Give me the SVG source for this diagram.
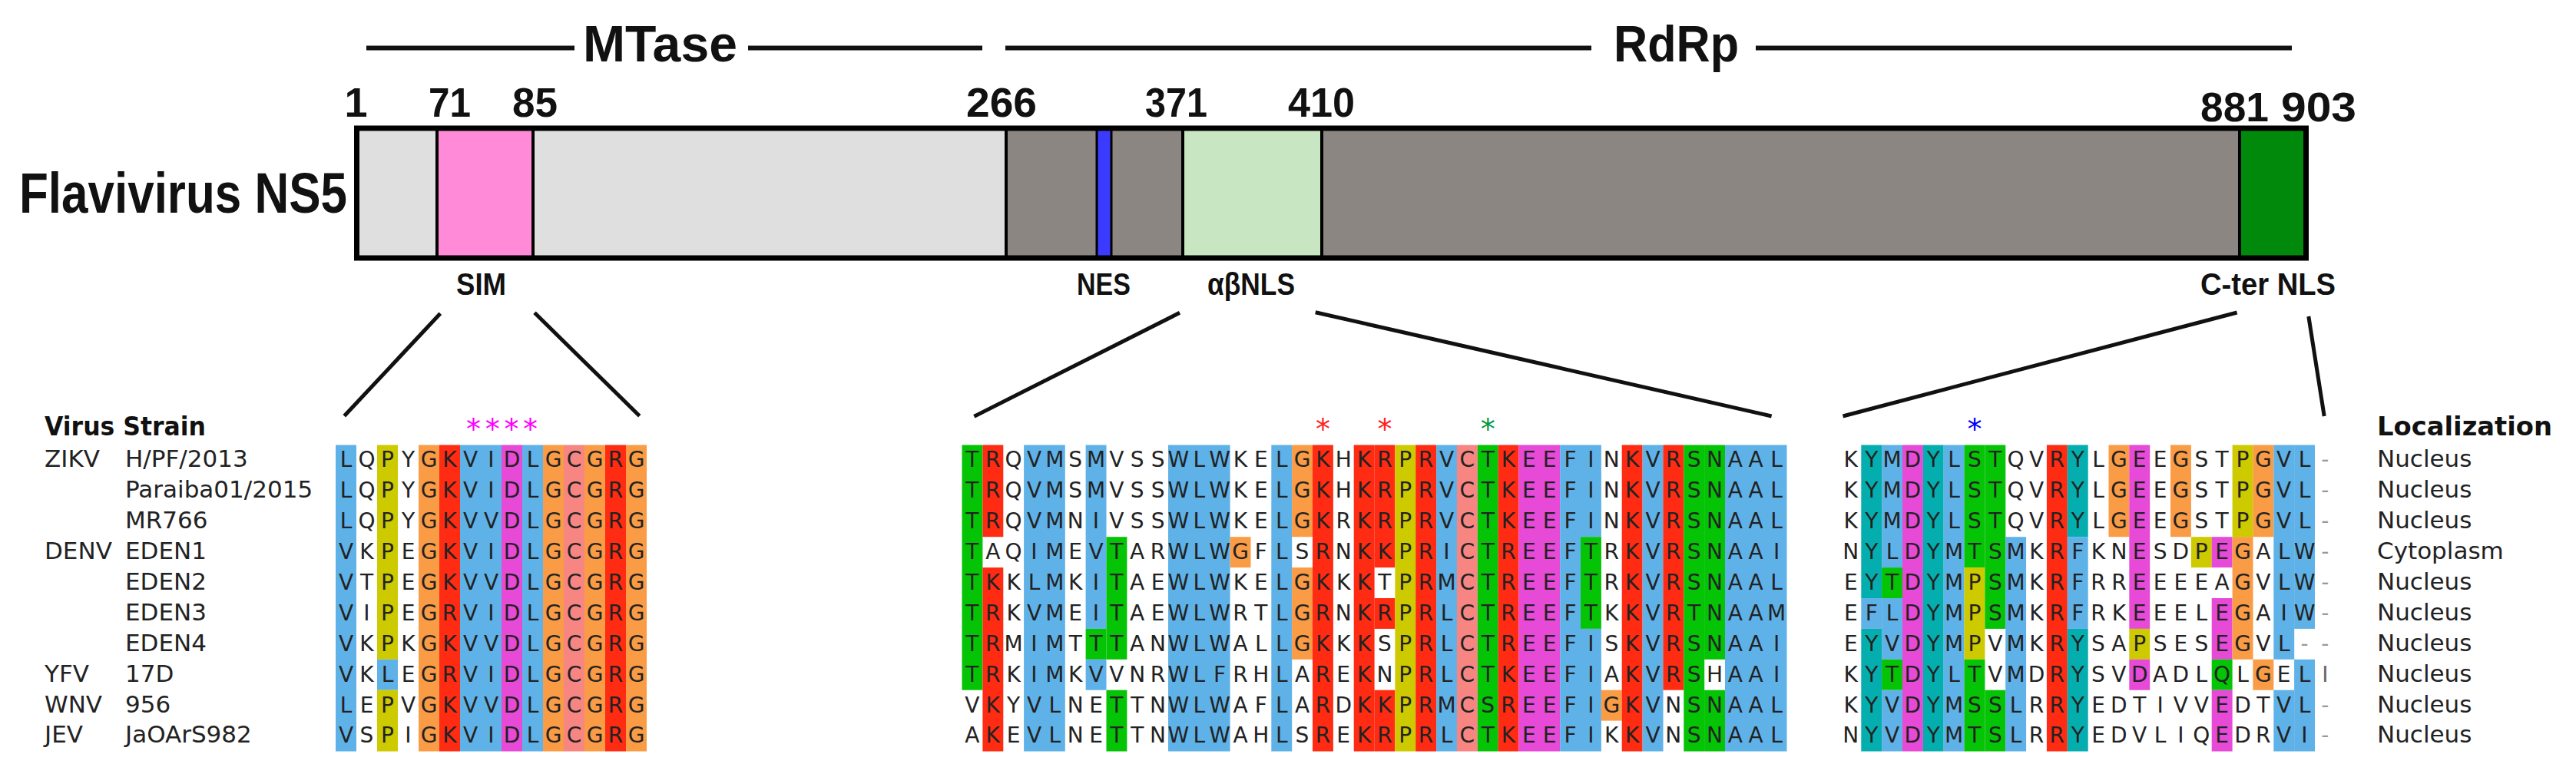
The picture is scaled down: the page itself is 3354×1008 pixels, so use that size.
<svg xmlns="http://www.w3.org/2000/svg" width="3354" height="1008" viewBox="0 0 3354 1008">
<style>
.bl{fill:#5FB2E8}.rd{fill:#FF2B12}.mg{fill:#E64AD6}.gr{fill:#05C305}.or{fill:#FA9B45}.sa{fill:#F78582}.ye{fill:#CDCA00}.te{fill:#05AEAE}
.aa{font-family:"DejaVu Sans",sans-serif;font-size:28px;fill:#222;text-anchor:middle}
.nm{font-family:"DejaVu Sans",sans-serif;font-size:31px;fill:#222}
.hd{font-family:"DejaVu Sans",sans-serif;font-size:34px;font-weight:bold;fill:#111}
.big{font-family:"Liberation Sans",Arial,sans-serif;font-weight:bold;fill:#111}
.num{font-family:"Liberation Sans",Arial,sans-serif;font-weight:bold;fill:#111;font-size:54px;text-anchor:middle}
.lab{font-family:"Liberation Sans",Arial,sans-serif;font-weight:bold;fill:#111;font-size:40px;text-anchor:middle}
.conn{stroke:#111;stroke-width:5;fill:none}
.tl{stroke:#111;stroke-width:6;fill:none}
.dash{fill:#999}
.star{font-family:"DejaVu Sans",sans-serif;font-size:38px;text-anchor:middle}
.div{stroke:#000;stroke-width:4}
</style>
<rect width="3354" height="1008" fill="#fff"/>

<g id="domain-titles">
<line class="tl" x1="477" y1="62.5" x2="748" y2="62.5"/>
<line class="tl" x1="974" y1="62.5" x2="1279" y2="62.5"/>
<text class="big" x="859.5" y="80" font-size="66" text-anchor="middle" textLength="201" lengthAdjust="spacingAndGlyphs">MTase</text>
<line class="tl" x1="1309" y1="62.5" x2="2072" y2="62.5"/>
<line class="tl" x1="2286" y1="62.5" x2="2984" y2="62.5"/>
<text class="big" x="2182.5" y="80" font-size="66" text-anchor="middle" textLength="163" lengthAdjust="spacingAndGlyphs">RdRp</text>
</g>

<g id="positions">
<text class="num" x="463.5" y="152">1</text>
<text class="num" x="585.5" y="152" textLength="55" lengthAdjust="spacingAndGlyphs">71</text>
<text class="num" x="696.5" y="152" textLength="59" lengthAdjust="spacingAndGlyphs">85</text>
<text class="num" x="1304" y="152" textLength="92" lengthAdjust="spacingAndGlyphs">266</text>
<text class="num" x="1531.5" y="152" textLength="81" lengthAdjust="spacingAndGlyphs">371</text>
<text class="num" x="1720.5" y="152" textLength="87" lengthAdjust="spacingAndGlyphs">410</text>
<text class="num" x="2909.5" y="158" textLength="89" lengthAdjust="spacingAndGlyphs">881</text>
<text class="num" x="3019" y="158" textLength="98" lengthAdjust="spacingAndGlyphs">903</text>
</g>

<g id="ns5-title">
<text class="big" x="25" y="277" font-size="75" textLength="427" lengthAdjust="spacingAndGlyphs">Flavivirus NS5</text>
</g>

<g id="ns5-bar">
<rect x="464.5" y="167" width="104.5" height="169" fill="#DFDFDF"/>
<rect x="569" y="167" width="125" height="169" fill="#FF8AD8"/>
<rect x="694" y="167" width="616" height="169" fill="#DFDFDF"/>
<rect x="1310" y="167" width="230" height="169" fill="#8B8682"/>
<rect x="1540" y="167" width="181" height="169" fill="#C8E6C1"/>
<rect x="1721" y="167" width="1195" height="169" fill="#8B8682"/>
<rect x="2916" y="167" width="86.5" height="169" fill="#00890A"/>
<rect x="1428" y="167" width="19" height="169" fill="#3B3BFF" stroke="#000" stroke-width="3"/>
<line class="div" x1="569" y1="167" x2="569" y2="336"/>
<line class="div" x1="694" y1="167" x2="694" y2="336"/>
<line class="div" x1="1310" y1="167" x2="1310" y2="336"/>
<line class="div" x1="1540" y1="167" x2="1540" y2="336"/>
<line class="div" x1="1721" y1="167" x2="1721" y2="336"/>
<line class="div" x1="2916" y1="167" x2="2916" y2="336"/>
<rect x="464.5" y="167" width="2538" height="169" fill="none" stroke="#000" stroke-width="7"/>
</g>

<g id="region-labels">
<text class="lab" x="626.5" y="384" textLength="65" lengthAdjust="spacingAndGlyphs">SIM</text>
<text class="lab" x="1437" y="384" textLength="70" lengthAdjust="spacingAndGlyphs">NES</text>
<text class="lab" x="1629" y="384" textLength="114" lengthAdjust="spacingAndGlyphs">αβNLS</text>
<text class="lab" x="2953" y="384" textLength="176" lengthAdjust="spacingAndGlyphs">C-ter NLS</text>
</g>

<g id="connectors">
<line class="conn" x1="573.3" y1="408.3" x2="448.3" y2="541.7"/>
<line class="conn" x1="696" y1="407.3" x2="832.7" y2="541.7"/>
<line class="conn" x1="1536" y1="407.3" x2="1268.3" y2="542.3"/>
<line class="conn" x1="1712.7" y1="406.7" x2="2306.6" y2="542"/>
<line class="conn" x1="2912.6" y1="407" x2="2399.5" y2="542"/>
<line class="conn" x1="3005.8" y1="412" x2="3026.2" y2="542"/>
</g>

<g id="strain-table">
<text class="hd" x="58" y="567" textLength="210" lengthAdjust="spacingAndGlyphs">Virus Strain</text>
<text class="nm" x="58" y="608.3">ZIKV</text>
<text class="nm" x="163" y="608.3">H/PF/2013</text>
<text class="nm" x="163" y="648.2">Paraiba01/2015</text>
<text class="nm" x="163" y="688.1">MR766</text>
<text class="nm" x="58" y="728">DENV</text>
<text class="nm" x="163" y="728">EDEN1</text>
<text class="nm" x="163" y="767.9">EDEN2</text>
<text class="nm" x="163" y="807.8">EDEN3</text>
<text class="nm" x="163" y="847.7">EDEN4</text>
<text class="nm" x="58" y="887.6">YFV</text>
<text class="nm" x="163" y="887.6">17D</text>
<text class="nm" x="58" y="927.5">WNV</text>
<text class="nm" x="163" y="927.5">956</text>
<text class="nm" x="58" y="967.4">JEV</text>
<text class="nm" x="163" y="967.4">JaOArS982</text>
</g>

<g id="alignment-sim">
<rect class="bl" x="437" y="579.5" width="27" height="399"/>
<rect class="ye" x="491" y="579.5" width="27" height="279.3"/>
<rect class="bl" x="491" y="858.8" width="27" height="39.9"/>
<rect class="ye" x="491" y="898.7" width="27" height="79.8"/>
<rect class="or" x="545" y="579.5" width="27" height="399"/>
<rect class="rd" x="572" y="579.5" width="27" height="399"/>
<rect class="bl" x="599" y="579.5" width="54" height="399"/>
<rect class="mg" x="653" y="579.5" width="27" height="399"/>
<rect class="bl" x="680" y="579.5" width="27" height="399"/>
<rect class="or" x="707" y="579.5" width="27" height="399"/>
<rect class="sa" x="734" y="579.5" width="27" height="399"/>
<rect class="or" x="761" y="579.5" width="27" height="399"/>
<rect class="rd" x="788" y="579.5" width="27" height="399"/>
<rect class="or" x="815" y="579.5" width="27" height="399"/>
<text class="star" x="616.6 641.3 666 690.6" y="572" fill="#FF00FF">****</text>
<text class="aa" x="450.5 477.5 504.5 531.5 558.5 585.5 612.5 639.5 666.5 693.5 720.5 747.5 774.5 801.5 828.5" y="608.3">LQPYGKVIDLGCGRG</text>
<text class="aa" x="450.5 477.5 504.5 531.5 558.5 585.5 612.5 639.5 666.5 693.5 720.5 747.5 774.5 801.5 828.5" y="648.2">LQPYGKVIDLGCGRG</text>
<text class="aa" x="450.5 477.5 504.5 531.5 558.5 585.5 612.5 639.5 666.5 693.5 720.5 747.5 774.5 801.5 828.5" y="688.1">LQPYGKVVDLGCGRG</text>
<text class="aa" x="450.5 477.5 504.5 531.5 558.5 585.5 612.5 639.5 666.5 693.5 720.5 747.5 774.5 801.5 828.5" y="728">VKPEGKVIDLGCGRG</text>
<text class="aa" x="450.5 477.5 504.5 531.5 558.5 585.5 612.5 639.5 666.5 693.5 720.5 747.5 774.5 801.5 828.5" y="767.9">VTPEGKVVDLGCGRG</text>
<text class="aa" x="450.5 477.5 504.5 531.5 558.5 585.5 612.5 639.5 666.5 693.5 720.5 747.5 774.5 801.5 828.5" y="807.8">VIPEGRVIDLGCGRG</text>
<text class="aa" x="450.5 477.5 504.5 531.5 558.5 585.5 612.5 639.5 666.5 693.5 720.5 747.5 774.5 801.5 828.5" y="847.7">VKPKGKVVDLGCGRG</text>
<text class="aa" x="450.5 477.5 504.5 531.5 558.5 585.5 612.5 639.5 666.5 693.5 720.5 747.5 774.5 801.5 828.5" y="887.6">VKLEGRVIDLGCGRG</text>
<text class="aa" x="450.5 477.5 504.5 531.5 558.5 585.5 612.5 639.5 666.5 693.5 720.5 747.5 774.5 801.5 828.5" y="927.5">LEPVGKVVDLGCGRG</text>
<text class="aa" x="450.5 477.5 504.5 531.5 558.5 585.5 612.5 639.5 666.5 693.5 720.5 747.5 774.5 801.5 828.5" y="967.4">VSPIGKVIDLGCGRG</text>
</g>

<g id="alignment-abnls">
<rect class="gr" x="1252.5" y="579.5" width="26.9" height="319.2"/>
<rect class="rd" x="1279.4" y="579.5" width="26.9" height="119.7"/>
<rect class="rd" x="1279.4" y="739.1" width="26.9" height="239.4"/>
<rect class="bl" x="1333.1" y="579.5" width="53.7" height="399"/>
<rect class="bl" x="1413.6" y="579.5" width="26.9" height="239.4"/>
<rect class="gr" x="1413.6" y="818.9" width="26.9" height="39.9"/>
<rect class="bl" x="1413.6" y="858.8" width="26.9" height="39.9"/>
<rect class="gr" x="1440.5" y="699.2" width="26.9" height="159.6"/>
<rect class="gr" x="1440.5" y="898.7" width="26.9" height="79.8"/>
<rect class="bl" x="1521" y="579.5" width="80.6" height="399"/>
<rect class="or" x="1601.6" y="699.2" width="26.9" height="39.9"/>
<rect class="bl" x="1655.3" y="579.5" width="26.9" height="399"/>
<rect class="or" x="1682.1" y="579.5" width="26.9" height="119.7"/>
<rect class="or" x="1682.1" y="739.1" width="26.9" height="119.7"/>
<rect class="rd" x="1709" y="579.5" width="26.9" height="399"/>
<rect class="rd" x="1762.7" y="579.5" width="26.9" height="399"/>
<rect class="rd" x="1789.5" y="579.5" width="26.9" height="159.6"/>
<rect class="rd" x="1789.5" y="779" width="26.9" height="39.9"/>
<rect class="rd" x="1789.5" y="898.7" width="26.9" height="79.8"/>
<rect class="ye" x="1816.4" y="579.5" width="26.9" height="399"/>
<rect class="rd" x="1843.2" y="579.5" width="26.9" height="399"/>
<rect class="bl" x="1870.1" y="579.5" width="26.9" height="399"/>
<rect class="sa" x="1896.9" y="579.5" width="26.9" height="399"/>
<rect class="gr" x="1923.8" y="579.5" width="26.9" height="399"/>
<rect class="rd" x="1950.6" y="579.5" width="26.9" height="399"/>
<rect class="mg" x="1977.5" y="579.5" width="53.7" height="399"/>
<rect class="bl" x="2031.2" y="579.5" width="26.9" height="399"/>
<rect class="bl" x="2058" y="579.5" width="26.9" height="119.7"/>
<rect class="gr" x="2058" y="699.2" width="26.9" height="119.7"/>
<rect class="bl" x="2058" y="818.9" width="26.9" height="159.6"/>
<rect class="or" x="2084.9" y="898.7" width="26.9" height="39.9"/>
<rect class="rd" x="2111.7" y="579.5" width="26.9" height="399"/>
<rect class="bl" x="2138.6" y="579.5" width="26.9" height="399"/>
<rect class="rd" x="2165.4" y="579.5" width="26.9" height="319.2"/>
<rect class="gr" x="2192.3" y="579.5" width="26.9" height="399"/>
<rect class="gr" x="2219.1" y="579.5" width="26.9" height="279.3"/>
<rect class="gr" x="2219.1" y="898.7" width="26.9" height="79.8"/>
<rect class="bl" x="2246" y="579.5" width="80.5" height="399"/>
<text class="star" x="1722.4" y="572" fill="#FF2020">*</text>
<text class="star" x="1802.9" y="572" fill="#FF2020">*</text>
<text class="star" x="1937.2" y="572" fill="#009944">*</text>
<text class="aa" x="1265.9 1292.8 1319.6 1346.5 1373.3 1400.2 1427 1453.9 1480.7 1507.6 1534.4 1561.3 1588.1 1615 1641.8 1668.7 1695.5 1722.4 1749.2 1776.1 1802.9 1829.8 1856.6 1883.5 1910.3 1937.2 1964 1990.9 2017.7 2044.6 2071.4 2098.3 2125.1 2152 2178.8 2205.7 2232.5 2259.4 2286.2 2313.1" y="608.3">TRQVMSMVSSWLWKELGKHKRPRVCTKEEFINKVRSNAAL</text>
<text class="aa" x="1265.9 1292.8 1319.6 1346.5 1373.3 1400.2 1427 1453.9 1480.7 1507.6 1534.4 1561.3 1588.1 1615 1641.8 1668.7 1695.5 1722.4 1749.2 1776.1 1802.9 1829.8 1856.6 1883.5 1910.3 1937.2 1964 1990.9 2017.7 2044.6 2071.4 2098.3 2125.1 2152 2178.8 2205.7 2232.5 2259.4 2286.2 2313.1" y="648.2">TRQVMSMVSSWLWKELGKHKRPRVCTKEEFINKVRSNAAL</text>
<text class="aa" x="1265.9 1292.8 1319.6 1346.5 1373.3 1400.2 1427 1453.9 1480.7 1507.6 1534.4 1561.3 1588.1 1615 1641.8 1668.7 1695.5 1722.4 1749.2 1776.1 1802.9 1829.8 1856.6 1883.5 1910.3 1937.2 1964 1990.9 2017.7 2044.6 2071.4 2098.3 2125.1 2152 2178.8 2205.7 2232.5 2259.4 2286.2 2313.1" y="688.1">TRQVMNIVSSWLWKELGKRKRPRVCTKEEFINKVRSNAAL</text>
<text class="aa" x="1265.9 1292.8 1319.6 1346.5 1373.3 1400.2 1427 1453.9 1480.7 1507.6 1534.4 1561.3 1588.1 1615 1641.8 1668.7 1695.5 1722.4 1749.2 1776.1 1802.9 1829.8 1856.6 1883.5 1910.3 1937.2 1964 1990.9 2017.7 2044.6 2071.4 2098.3 2125.1 2152 2178.8 2205.7 2232.5 2259.4 2286.2 2313.1" y="728">TAQIMEVTARWLWGFLSRNKKPRICTREEFTRKVRSNAAI</text>
<text class="aa" x="1265.9 1292.8 1319.6 1346.5 1373.3 1400.2 1427 1453.9 1480.7 1507.6 1534.4 1561.3 1588.1 1615 1641.8 1668.7 1695.5 1722.4 1749.2 1776.1 1802.9 1829.8 1856.6 1883.5 1910.3 1937.2 1964 1990.9 2017.7 2044.6 2071.4 2098.3 2125.1 2152 2178.8 2205.7 2232.5 2259.4 2286.2 2313.1" y="767.9">TKKLMKITAEWLWKELGKKKTPRMCTREEFTRKVRSNAAL</text>
<text class="aa" x="1265.9 1292.8 1319.6 1346.5 1373.3 1400.2 1427 1453.9 1480.7 1507.6 1534.4 1561.3 1588.1 1615 1641.8 1668.7 1695.5 1722.4 1749.2 1776.1 1802.9 1829.8 1856.6 1883.5 1910.3 1937.2 1964 1990.9 2017.7 2044.6 2071.4 2098.3 2125.1 2152 2178.8 2205.7 2232.5 2259.4 2286.2 2313.1" y="807.8">TRKVMEITAEWLWRTLGRNKRPRLCTREEFTKKVRTNAAM</text>
<text class="aa" x="1265.9 1292.8 1319.6 1346.5 1373.3 1400.2 1427 1453.9 1480.7 1507.6 1534.4 1561.3 1588.1 1615 1641.8 1668.7 1695.5 1722.4 1749.2 1776.1 1802.9 1829.8 1856.6 1883.5 1910.3 1937.2 1964 1990.9 2017.7 2044.6 2071.4 2098.3 2125.1 2152 2178.8 2205.7 2232.5 2259.4 2286.2 2313.1" y="847.7">TRMIMTTTANWLWALLGKKKSPRLCTREEFISKVRSNAAI</text>
<text class="aa" x="1265.9 1292.8 1319.6 1346.5 1373.3 1400.2 1427 1453.9 1480.7 1507.6 1534.4 1561.3 1588.1 1615 1641.8 1668.7 1695.5 1722.4 1749.2 1776.1 1802.9 1829.8 1856.6 1883.5 1910.3 1937.2 1964 1990.9 2017.7 2044.6 2071.4 2098.3 2125.1 2152 2178.8 2205.7 2232.5 2259.4 2286.2 2313.1" y="887.6">TRKIMKVVNRWLFRHLAREKNPRLCTKEEFIAKVRSHAAI</text>
<text class="aa" x="1265.9 1292.8 1319.6 1346.5 1373.3 1400.2 1427 1453.9 1480.7 1507.6 1534.4 1561.3 1588.1 1615 1641.8 1668.7 1695.5 1722.4 1749.2 1776.1 1802.9 1829.8 1856.6 1883.5 1910.3 1937.2 1964 1990.9 2017.7 2044.6 2071.4 2098.3 2125.1 2152 2178.8 2205.7 2232.5 2259.4 2286.2 2313.1" y="927.5">VKYVLNETTNWLWAFLARDKKPRMCSREEFIGKVNSNAAL</text>
<text class="aa" x="1265.9 1292.8 1319.6 1346.5 1373.3 1400.2 1427 1453.9 1480.7 1507.6 1534.4 1561.3 1588.1 1615 1641.8 1668.7 1695.5 1722.4 1749.2 1776.1 1802.9 1829.8 1856.6 1883.5 1910.3 1937.2 1964 1990.9 2017.7 2044.6 2071.4 2098.3 2125.1 2152 2178.8 2205.7 2232.5 2259.4 2286.2 2313.1" y="967.4">AKEVLNETTNWLWAHLSREKRPRLCTKEEFIKKVNSNAAL</text>
</g>

<g id="alignment-cter">
<rect class="te" x="2423.3" y="579.5" width="26.9" height="199.5"/>
<rect class="bl" x="2423.3" y="779" width="26.9" height="39.9"/>
<rect class="te" x="2423.3" y="818.9" width="26.9" height="159.6"/>
<rect class="bl" x="2450.1" y="579.5" width="26.9" height="159.6"/>
<rect class="gr" x="2450.1" y="739.1" width="26.9" height="39.9"/>
<rect class="bl" x="2450.1" y="779" width="26.9" height="79.8"/>
<rect class="gr" x="2450.1" y="858.8" width="26.9" height="39.9"/>
<rect class="bl" x="2450.1" y="898.7" width="26.9" height="79.8"/>
<rect class="mg" x="2477" y="579.5" width="26.9" height="399"/>
<rect class="te" x="2503.8" y="579.5" width="26.9" height="399"/>
<rect class="bl" x="2530.7" y="579.5" width="26.9" height="399"/>
<rect class="gr" x="2557.5" y="579.5" width="26.9" height="159.6"/>
<rect class="ye" x="2557.5" y="739.1" width="26.9" height="119.7"/>
<rect class="gr" x="2557.5" y="858.8" width="26.9" height="119.7"/>
<rect class="gr" x="2584.4" y="579.5" width="26.9" height="239.4"/>
<rect class="gr" x="2584.4" y="898.7" width="26.9" height="79.8"/>
<rect class="bl" x="2611.2" y="699.2" width="26.9" height="279.3"/>
<rect class="rd" x="2664.9" y="579.5" width="26.9" height="399"/>
<rect class="te" x="2691.8" y="579.5" width="26.9" height="119.7"/>
<rect class="bl" x="2691.8" y="699.2" width="26.9" height="119.7"/>
<rect class="te" x="2691.8" y="818.9" width="26.9" height="159.6"/>
<rect class="or" x="2745.5" y="579.5" width="26.9" height="119.7"/>
<rect class="mg" x="2772.3" y="579.5" width="26.9" height="239.4"/>
<rect class="ye" x="2772.3" y="818.9" width="26.9" height="39.9"/>
<rect class="mg" x="2772.3" y="858.8" width="26.9" height="39.9"/>
<rect class="or" x="2826" y="579.5" width="26.9" height="119.7"/>
<rect class="ye" x="2852.9" y="699.2" width="26.9" height="39.9"/>
<rect class="mg" x="2879.7" y="699.2" width="26.9" height="39.9"/>
<rect class="mg" x="2879.7" y="779" width="26.9" height="79.8"/>
<rect class="gr" x="2879.7" y="858.8" width="26.9" height="39.9"/>
<rect class="mg" x="2879.7" y="898.7" width="26.9" height="79.8"/>
<rect class="ye" x="2906.6" y="579.5" width="26.9" height="119.7"/>
<rect class="or" x="2906.6" y="699.2" width="26.9" height="159.6"/>
<rect class="or" x="2933.4" y="579.5" width="26.9" height="119.7"/>
<rect class="or" x="2933.4" y="858.8" width="26.9" height="39.9"/>
<rect class="bl" x="2960.3" y="579.5" width="26.9" height="279.3"/>
<rect class="bl" x="2960.3" y="898.7" width="26.9" height="79.8"/>
<rect class="bl" x="2987.1" y="579.5" width="26.9" height="239.4"/>
<rect class="bl" x="2987.1" y="858.8" width="26.9" height="119.7"/>
<text class="star" x="2570.9" y="572" fill="#0000FF">*</text>
<text class="aa" x="2409.8 2436.7 2463.5 2490.4 2517.2 2544.1 2570.9 2597.8 2624.6 2651.5 2678.3 2705.2 2732 2758.9 2785.7 2812.6 2839.4 2866.3 2893.1 2920 2946.8 2973.7 3000.5" y="608.3">KYMDYLSTQVRYLGEEGSTPGVL<tspan class="dash" x="3027.4">-</tspan></text>
<text class="aa" x="2409.8 2436.7 2463.5 2490.4 2517.2 2544.1 2570.9 2597.8 2624.6 2651.5 2678.3 2705.2 2732 2758.9 2785.7 2812.6 2839.4 2866.3 2893.1 2920 2946.8 2973.7 3000.5" y="648.2">KYMDYLSTQVRYLGEEGSTPGVL<tspan class="dash" x="3027.4">-</tspan></text>
<text class="aa" x="2409.8 2436.7 2463.5 2490.4 2517.2 2544.1 2570.9 2597.8 2624.6 2651.5 2678.3 2705.2 2732 2758.9 2785.7 2812.6 2839.4 2866.3 2893.1 2920 2946.8 2973.7 3000.5" y="688.1">KYMDYLSTQVRYLGEEGSTPGVL<tspan class="dash" x="3027.4">-</tspan></text>
<text class="aa" x="2409.8 2436.7 2463.5 2490.4 2517.2 2544.1 2570.9 2597.8 2624.6 2651.5 2678.3 2705.2 2732 2758.9 2785.7 2812.6 2839.4 2866.3 2893.1 2920 2946.8 2973.7 3000.5" y="728">NYLDYMTSMKRFKNESDPEGALW<tspan class="dash" x="3027.4">-</tspan></text>
<text class="aa" x="2409.8 2436.7 2463.5 2490.4 2517.2 2544.1 2570.9 2597.8 2624.6 2651.5 2678.3 2705.2 2732 2758.9 2785.7 2812.6 2839.4 2866.3 2893.1 2920 2946.8 2973.7 3000.5" y="767.9">EYTDYMPSMKRFRREEEEAGVLW<tspan class="dash" x="3027.4">-</tspan></text>
<text class="aa" x="2409.8 2436.7 2463.5 2490.4 2517.2 2544.1 2570.9 2597.8 2624.6 2651.5 2678.3 2705.2 2732 2758.9 2785.7 2812.6 2839.4 2866.3 2893.1 2920 2946.8 2973.7 3000.5" y="807.8">EFLDYMPSMKRFRKEEELEGAIW<tspan class="dash" x="3027.4">-</tspan></text>
<text class="aa" x="2409.8 2436.7 2463.5 2490.4 2517.2 2544.1 2570.9 2597.8 2624.6 2651.5 2678.3 2705.2 2732 2758.9 2785.7 2812.6 2839.4 2866.3 2893.1 2920 2946.8 2973.7" y="847.7">EYVDYMPVMKRYSAPSESEGVL<tspan class="dash" x="3000.5">-</tspan><tspan class="dash" x="3027.4">-</tspan></text>
<text class="aa" x="2409.8 2436.7 2463.5 2490.4 2517.2 2544.1 2570.9 2597.8 2624.6 2651.5 2678.3 2705.2 2732 2758.9 2785.7 2812.6 2839.4 2866.3 2893.1 2920 2946.8 2973.7 3000.5" y="887.6">KYTDYLTVMDRYSVDADLQLGEL<tspan x="3027.4" fill="#666">I</tspan></text>
<text class="aa" x="2409.8 2436.7 2463.5 2490.4 2517.2 2544.1 2570.9 2597.8 2624.6 2651.5 2678.3 2705.2 2732 2758.9 2785.7 2812.6 2839.4 2866.3 2893.1 2920 2946.8 2973.7 3000.5" y="927.5">KYVDYMSSLRRYEDTIVVEDTVL<tspan class="dash" x="3027.4">-</tspan></text>
<text class="aa" x="2409.8 2436.7 2463.5 2490.4 2517.2 2544.1 2570.9 2597.8 2624.6 2651.5 2678.3 2705.2 2732 2758.9 2785.7 2812.6 2839.4 2866.3 2893.1 2920 2946.8 2973.7 3000.5" y="967.4">NYVDYMTSLRRYEDVLIQEDRVI<tspan class="dash" x="3027.4">-</tspan></text>
</g>

<g id="localization">
<text class="hd" x="3095" y="567" textLength="228" lengthAdjust="spacingAndGlyphs">Localization</text>
<text class="nm" x="3095" y="608.3">Nucleus</text>
<text class="nm" x="3095" y="648.2">Nucleus</text>
<text class="nm" x="3095" y="688.1">Nucleus</text>
<text class="nm" x="3095" y="728">Cytoplasm</text>
<text class="nm" x="3095" y="767.9">Nucleus</text>
<text class="nm" x="3095" y="807.8">Nucleus</text>
<text class="nm" x="3095" y="847.7">Nucleus</text>
<text class="nm" x="3095" y="887.6">Nucleus</text>
<text class="nm" x="3095" y="927.5">Nucleus</text>
<text class="nm" x="3095" y="967.4">Nucleus</text>
</g>
</svg>
